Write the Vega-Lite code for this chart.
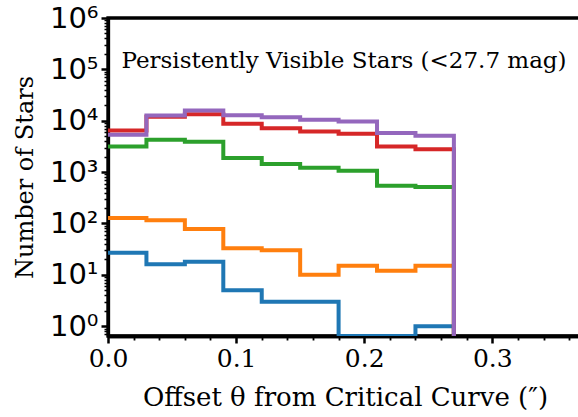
{
  "$schema": "https://vega.github.io/schema/vega-lite/v6.json",
  "autosize": "none",
  "width": 474,
  "height": 318,
  "padding": {"left": 108, "top": 18, "right": 0, "bottom": 81},
  "background": "white",
  "config": {
    "view": {"stroke": "black", "strokeWidth": 3.3},
    "axis": {"domain": true, "domainColor": "black", "domainWidth": 3.3, "zindex": 1, "grid": false, "tickColor": "black", "labelColor": "black", "titleColor": "black", "labelFlush": false, "labelOverlap": false}
  },
  "resolve": {"axis": {"x": "independent"}},
  "data": {
    "values": [
      {"series": "s1", "x": 0.00, "count": 27},
      {"series": "s1", "x": 0.03, "count": 16},
      {"series": "s1", "x": 0.06, "count": 18},
      {"series": "s1", "x": 0.09, "count": 5},
      {"series": "s1", "x": 0.12, "count": 3},
      {"series": "s1", "x": 0.15, "count": 3},
      {"series": "s1", "x": 0.18, "count": 0},
      {"series": "s1", "x": 0.21, "count": 0},
      {"series": "s1", "x": 0.24, "count": 1},
      {"series": "s1", "x": 0.27, "count": 0},
      {"series": "s2", "x": 0.00, "count": 128},
      {"series": "s2", "x": 0.03, "count": 115},
      {"series": "s2", "x": 0.06, "count": 78},
      {"series": "s2", "x": 0.09, "count": 33},
      {"series": "s2", "x": 0.12, "count": 30},
      {"series": "s2", "x": 0.15, "count": 10},
      {"series": "s2", "x": 0.18, "count": 15},
      {"series": "s2", "x": 0.21, "count": 12},
      {"series": "s2", "x": 0.24, "count": 15},
      {"series": "s2", "x": 0.27, "count": 0},
      {"series": "s3", "x": 0.00, "count": 3150},
      {"series": "s3", "x": 0.03, "count": 4260},
      {"series": "s3", "x": 0.06, "count": 3890},
      {"series": "s3", "x": 0.09, "count": 1890},
      {"series": "s3", "x": 0.12, "count": 1435},
      {"series": "s3", "x": 0.15, "count": 1215},
      {"series": "s3", "x": 0.18, "count": 1063},
      {"series": "s3", "x": 0.21, "count": 543},
      {"series": "s3", "x": 0.24, "count": 513},
      {"series": "s3", "x": 0.27, "count": 0},
      {"series": "s4", "x": 0.00, "count": 6450},
      {"series": "s4", "x": 0.03, "count": 12000},
      {"series": "s4", "x": 0.06, "count": 13400},
      {"series": "s4", "x": 0.09, "count": 8700},
      {"series": "s4", "x": 0.12, "count": 7180},
      {"series": "s4", "x": 0.15, "count": 6150},
      {"series": "s4", "x": 0.18, "count": 5560},
      {"series": "s4", "x": 0.21, "count": 3160},
      {"series": "s4", "x": 0.24, "count": 2800},
      {"series": "s4", "x": 0.27, "count": 0},
      {"series": "s5", "x": 0.00, "count": 5320},
      {"series": "s5", "x": 0.03, "count": 12600},
      {"series": "s5", "x": 0.06, "count": 15800},
      {"series": "s5", "x": 0.09, "count": 12800},
      {"series": "s5", "x": 0.12, "count": 11700},
      {"series": "s5", "x": 0.15, "count": 10400},
      {"series": "s5", "x": 0.18, "count": 9660},
      {"series": "s5", "x": 0.21, "count": 5750},
      {"series": "s5", "x": 0.24, "count": 5130},
      {"series": "s5", "x": 0.27, "count": 0}
    ]
  },
  "layer": [
    {
      "mark": {"type": "line", "interpolate": "step-after", "strokeWidth": 4, "strokeCap": "square", "strokeJoin": "miter", "invalid": "show", "clip": true},
      "encoding": {
        "x": {
          "field": "x", "type": "quantitative",
          "scale": {"domain": [0, 0.37], "nice": false, "zero": false},
          "axis": {
            "orient": "bottom",
            "values": [0, 0.1, 0.2, 0.3],
            "format": ".1f",
            "tickSize": 7, "tickWidth": 2.5,
            "labelOverlap": false, "labelFlush": false,
            "labelFont": "DejaVu Serif", "labelFontSize": 25, "labelPadding": 3,
            "title": "Offset θ from Critical Curve (″)",
            "titleFont": "DejaVu Serif", "titleFontSize": 26, "titleFontWeight": "normal", "titlePadding": 13
          }
        },
        "y": {
          "field": "count", "type": "quantitative",
          "scale": {"type": "log", "domain": [0.645, 1000000], "nice": false, "clamp": true},
          "axis": {
            "values": [0.7, 0.8, 0.9, 1, 2, 3, 4, 5, 6, 7, 8, 9, 10, 20, 30, 40, 50, 60, 70, 80, 90, 100, 200, 300, 400, 500, 600, 700, 800, 900, 1000, 2000, 3000, 4000, 5000, 6000, 7000, 8000, 9000, 10000, 20000, 30000, 40000, 50000, 60000, 70000, 80000, 90000, 100000, 200000, 300000, 400000, 500000, 600000, 700000, 800000, 900000, 1000000],
            "labelExpr": "abs(log(datum.value)/LN10 - round(log(datum.value)/LN10)) < 1e-6 ? '10' + ['⁰','¹','²','³','⁴','⁵','⁶'][round(log(datum.value)/LN10)] : ''",
            "tickSize": {"condition": {"test": "abs(log(datum.value)/LN10 - round(log(datum.value)/LN10)) < 1e-6", "value": 7}, "value": 4},
            "tickWidth": {"condition": {"test": "abs(log(datum.value)/LN10 - round(log(datum.value)/LN10)) < 1e-6", "value": 2.5}, "value": 1.5},
            "labelOverlap": false, "labelFlush": false,
            "labelFont": "DejaVu Sans", "labelFontSize": 29, "labelPadding": 3,
            "title": "Number of Stars",
            "titleFont": "DejaVu Serif", "titleFontSize": 24, "titleFontWeight": "normal", "titlePadding": 12
          }
        },
        "color": {
          "field": "series", "type": "nominal",
          "scale": {"domain": ["s1", "s2", "s3", "s4", "s5"], "range": ["#1f77b4", "#ff7f0e", "#2ca02c", "#d62728", "#9467bd"]},
          "legend": null
        }
      }
    },
    {
      "data": {"values": [{"label": "Persistently Visible Stars (<27.7 mag)"}]},
      "mark": {"type": "text", "font": "DejaVu Serif", "fontSize": 23, "fontWeight": "normal", "align": "left", "baseline": "alphabetic", "fill": "black"},
      "encoding": {
        "text": {"field": "label", "type": "nominal"},
        "x": {
          "datum": 0.0105, "type": "quantitative",
          "axis": {
            "orient": "bottom",
            "values": [0.02, 0.04, 0.06, 0.08, 0.12, 0.14, 0.16, 0.18, 0.22, 0.24, 0.26, 0.28, 0.32, 0.34, 0.36],
            "labels": false, "title": null,
            "tickSize": 4, "tickWidth": 1.8
          }
        },
        "y": {"datum": 107000, "type": "quantitative"}
      }
    }
  ]
}
